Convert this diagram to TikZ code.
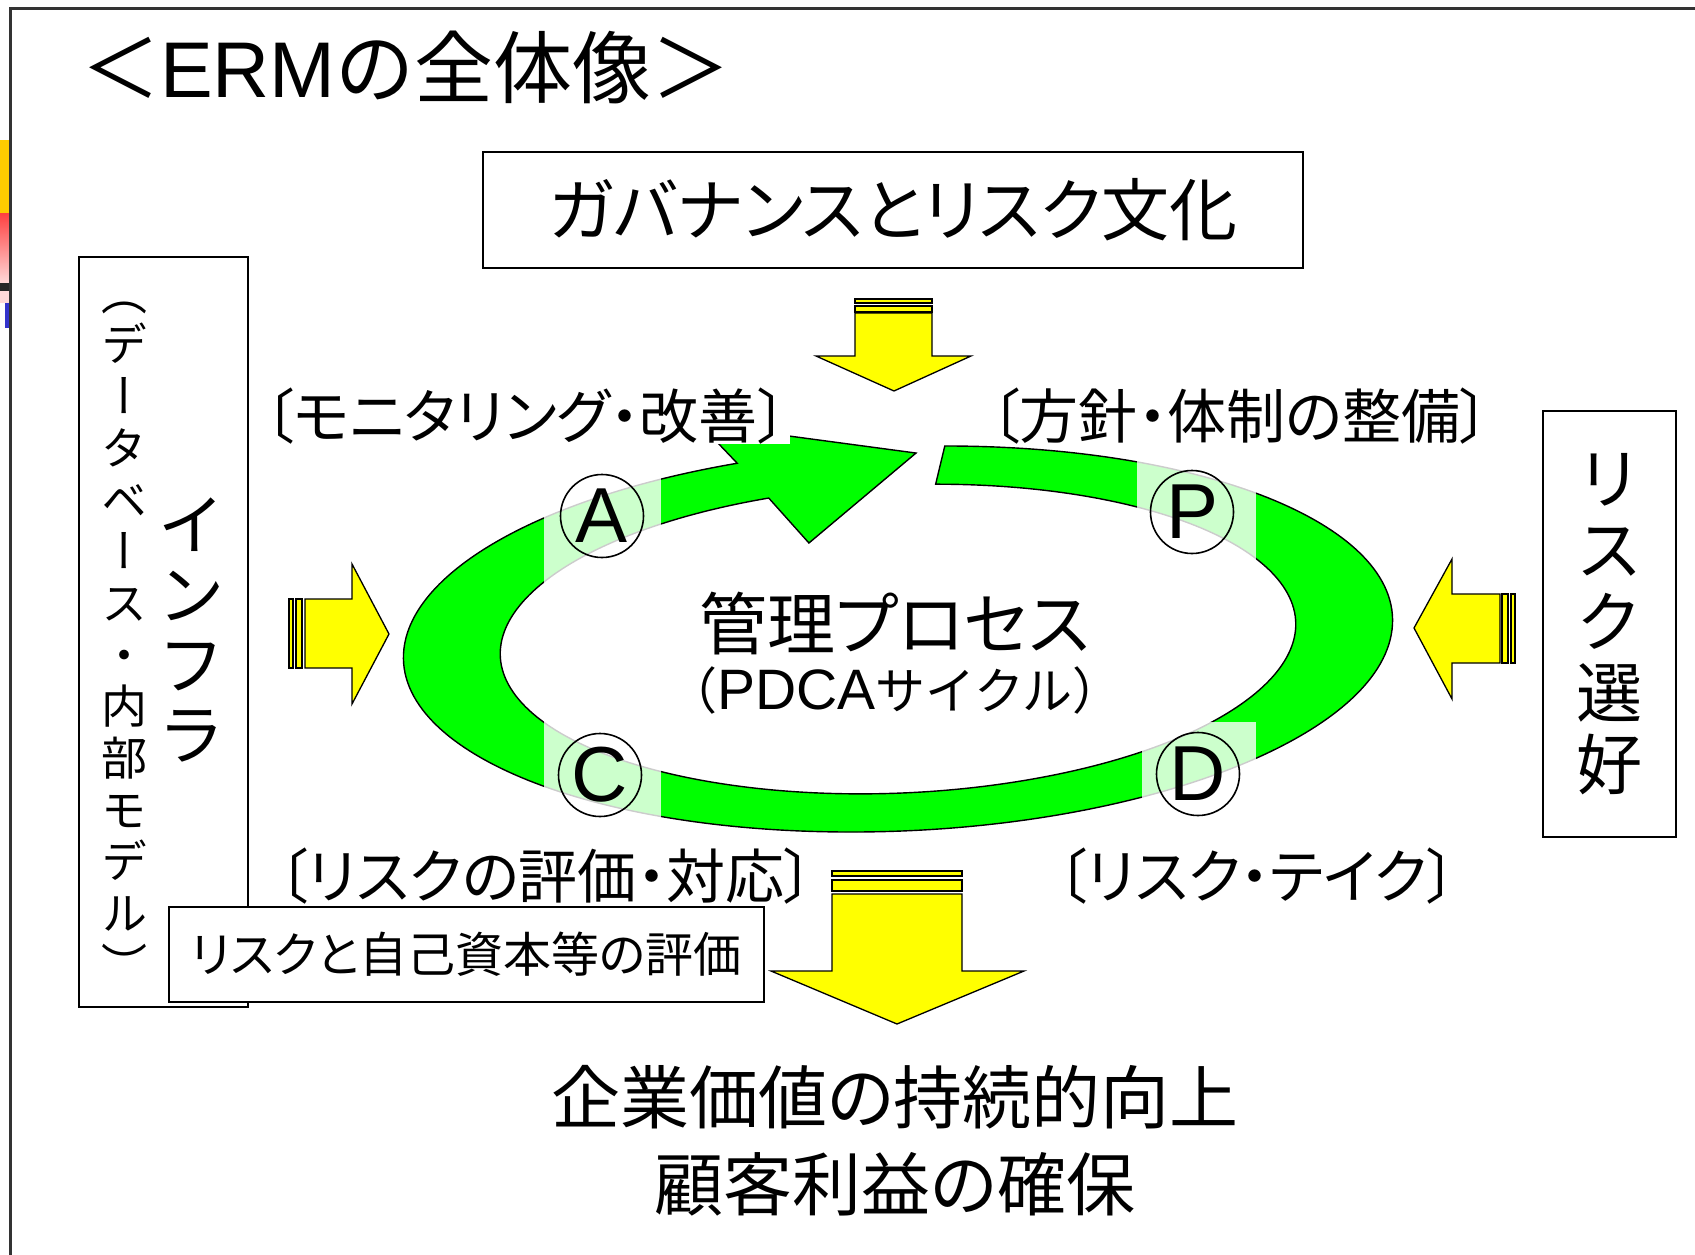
\documentclass[tikz,border=0pt]{standalone}
\usepackage{fontspec}
\setmainfont{Noto Sans CJK JP}[RawFeature=+palt]
\newfontfamily\jpm{Noto Sans CJK JP}
\newfontfamily\jpv{Noto Sans CJK JP}[RawFeature=+vert]
\newfontfamily\lat{Liberation Sans}
\definecolor{arrowyellow}{HTML}{FFFF00}
\definecolor{ringgreen}{HTML}{00FF00}
\definecolor{baryellow}{HTML}{FFCC00}
\definecolor{barred}{HTML}{FF4040}
\definecolor{barpink}{HTML}{FFD8D8}
\definecolor{barblue}{HTML}{3333CC}
\tikzset{
  slideframe/.style={draw=black!80, line width=2.2pt},
  tbox/.style={draw=black, line width=1.6pt, fill=white, inner sep=0pt},
  yarrow/.style={fill=arrowyellow, draw=black, line width=1.3pt, line join=miter},
  ring/.style={fill=ringgreen, draw=black, line width=1.4pt},
  veil/.style={fill=white, opacity=0.8},
  pdca/.style={circle, draw=black, line width=1.6pt, minimum size=83pt, inner sep=0pt, font=\lat\fontsize{78}{80}\selectfont},
  lbl/.style={inner sep=0pt, font=\fontsize{59}{65}\selectfont},
}
\begin{document}
\begin{tikzpicture}[x=1pt,y=-1pt]
\useasboundingbox (0,0) rectangle (1695,1255);
% slide edge decoration
\fill[baryellow] (0,140) rectangle (10,213);
\shade[top color=barred, bottom color=barpink] (0,213) rectangle (10,283);
\fill[black!85] (0,283) rectangle (10,291);
\fill[barpink] (0,291) rectangle (10,303);
\fill[barblue] (5,303) rectangle (10,328);
\draw[slideframe] (10.5,1260) -- (10.5,8.5) -- (1700,8.5);
% title
\node[font=\jpm\fontsize{79}{80}\selectfont, inner sep=0pt] (title) at (406,67) {＜{\lat ERM}の全体像＞};
% boxes
\node[tbox, minimum width=820pt, minimum height=116pt, font=\fontsize{68}{72}\selectfont] (gov) at (893,210) {ガバナンスとリスク文化};
\node[tbox, minimum width=169pt, minimum height=750pt] (infra) at (163.5,632) {};
\node[inner sep=0pt, align=center, font=\jpv\fontsize{46}{51.7}\selectfont] (infrasub) at (124,642) {（\\デ\\ー\\タ\\ベ\\ー\\ス\\・\\内\\部\\モ\\デ\\ル\\）};
\node[inner sep=0pt, align=center, font=\jpm\fontsize{66}{70}\selectfont] (infratitle) at (191,630) {イ\\ン\\フ\\ラ};
\node[tbox, minimum width=133pt, minimum height=426pt, align=center, font=\jpm\fontsize{66}{71.5}\selectfont] (pref) at (1609.5,624) {リ\\ス\\ク\\選\\好};
% block arrows
\draw[yarrow] (855,299) rectangle (932,303);
\draw[yarrow] (855,306) rectangle (932,312);
\draw[yarrow] (855,313) -- (932,313) -- (932,356) -- (971,356) -- (894,391) -- (816,356) -- (855,356) -- cycle;
\draw[yarrow] (289,599) rectangle (293,668);
\draw[yarrow] (296,599) rectangle (302,668);
\draw[yarrow] (305,599) -- (352,599) -- (352,564) -- (389,634) -- (352,704) -- (352,668) -- (305,668) -- cycle;
\draw[yarrow] (1500,594) -- (1452,594) -- (1452,559) -- (1414,628) -- (1452,699) -- (1452,663) -- (1500,663) -- cycle;
\draw[yarrow] (1502,594) rectangle (1508,663);
\draw[yarrow] (1511,594) rectangle (1515,663);
% PDCA ring
\begin{scope}[shift={(898,639)}, rotate=2.5]
\draw[ring] (276.4:495 and 192) arc[start angle=276.4, end angle=612, x radius=495, y radius=192]
  -- (-188.6,-223.4) -- (26.1,-185.0) -- (-84.8,-99.8)
  -- (612:398 and 154) arc[start angle=612, end angle=276.4, x radius=398, y radius=154] -- cycle;
\end{scope}
\fill[veil] (544,465) rectangle (661,605);
\fill[veil] (544,695) rectangle (661,835);
\fill[veil] (1137,440) rectangle (1256,575);
\fill[veil] (1142,722) rectangle (1256,840);
\node[pdca] (A) at (602,516) {A};
\node[pdca] (P) at (1192,512) {P};
\node[pdca] (C) at (600,775) {C};
\node[pdca] (D) at (1198,774) {D};
% labels
\node[lbl, fill=white, minimum width=528pt, minimum height=56pt] (mon) at (526,416) {〔モニタリング・改善〕};
\node[lbl] (pol) at (1240,416) {〔方針・体制の整備〕};
\node[lbl] (evl) at (546,876) {〔リスクの評価・対応〕};
\node[lbl] (take) at (1257,876) {〔リスク・テイク〕};
\node[inner sep=0pt, font=\fontsize{68}{72}\selectfont] (proc) at (895,624) {管理プロセス};
\node[inner sep=0pt, font=\jpm\fontsize{50}{52}\selectfont] (pdcaline) at (895,690) {（{\lat\fontsize{57}{60}\selectfont PDCA}サイクル）};
% evaluation box
\node[tbox, minimum width=595pt, minimum height=95pt, font=\fontsize{48}{50}\selectfont] (cap) at (466.5,954.5) {リスクと自己資本等の評価};
% bottom arrow
\draw[yarrow] (832,871) rectangle (962,876);
\draw[yarrow] (832,880) rectangle (962,891);
\draw[yarrow] (832,894) -- (962,894) -- (962,971) -- (1024,971) -- (897,1024) -- (771,971) -- (832,971) -- cycle;
\node[inner sep=0pt, align=center, font=\fontsize{69}{87}\selectfont] (goal) at (895,1141) {企業価値の持続的向上\\顧客利益の確保};
\end{tikzpicture}
\end{document}
